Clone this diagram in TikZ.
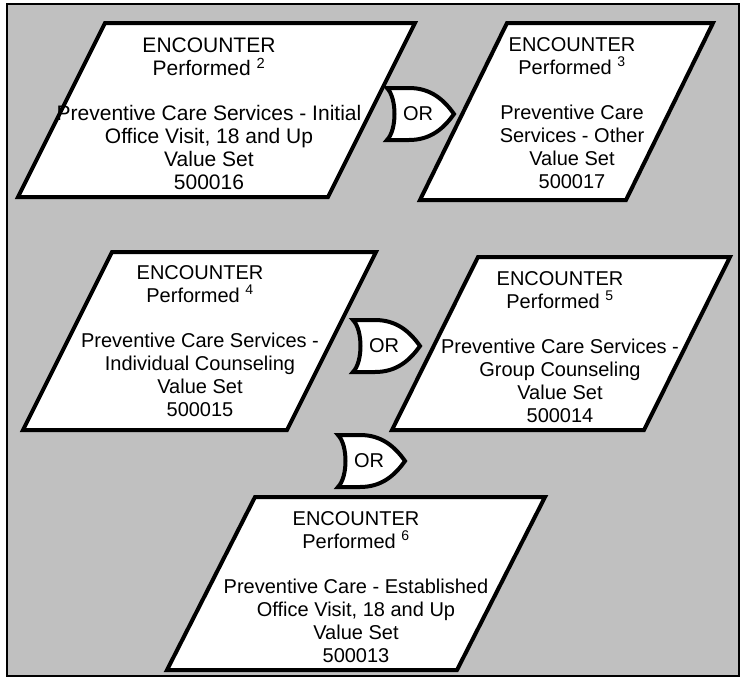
\documentclass[tikz,border=0pt]{standalone}
\usepackage{fontspec}
\setmainfont{Liberation Sans}
\definecolor{panelgray}{HTML}{C0C0C0}
\tikzset{
	boxline/.style={line width=4pt, fill=white},
	gateline/.style={line width=4pt, fill=white},
	label/.style={align=center, inner sep=0pt, font=\fontsize{20}{23}\selectfont}
}
\begin{document}
\begin{tikzpicture}[x=1pt, y=-1pt]
		\useasboundingbox (0,0) rectangle (740,678);
		\draw[line width=1.5pt, fill=panelgray] (7,4) rectangle (739,676);
		
		% parallelograms: top left corner, width, height, slant
		\foreach \x/\y/\w/\h/\s in {105/23/310/174/87, 507/23/206/177/87, 112/252/264/178/89, 478/257/252/173/86, 255/497/290/173/88}
		{
			\draw[boxline] (\x,\y) -- ++(\w,0) -- ++(-\s,\h) -- ++(-\w,0) -- cycle;
		}
		
		\node[label, font=\fontsize{21}{23}\selectfont] (enc2) at (209,114) {ENCOUNTER\\Performed \textsuperscript{2}\\[22pt]Preventive Care Services - Initial\\Office Visit, 18 and Up\\Value Set\\500016};
		\node[label] (enc3) at (572,113) {ENCOUNTER\\Performed \textsuperscript{3}\\[22pt]Preventive Care\\Services - Other\\Value Set\\500017};
		\node[label] (enc4) at (200,341) {ENCOUNTER\\Performed \textsuperscript{4}\\[22pt]Preventive Care Services -\\Individual Counseling\\Value Set\\500015};
		\node[label] (enc5) at (560,347) {ENCOUNTER\\Performed \textsuperscript{5}\\[22pt]Preventive Care Services -\\Group Counseling\\Value Set\\500014};
		\node[label] (enc6) at (356,587) {ENCOUNTER\\Performed \textsuperscript{6}\\[22pt]Preventive Care - Established\\Office Visit, 18 and Up\\Value Set\\500013};
		
		% OR gates: back top corner
		\foreach \n/\x/\y in {or1/387/88, or2/353/320, or3/338/435}
		{
			\draw[gateline] (\x,\y) -- ++(22,0) .. controls ++(22,0) and ++(-10,-14) .. ++(45,26)
				.. controls ++(-10,14) and ++(22,0) .. ++(-45,26) -- ++(-22,0)
				.. controls ++(10,-10) and ++(10,10) .. ++(0,-52) -- cycle;
			\node[label] (\n) at (\x+31,\y+26) {OR};
		}
	\end{tikzpicture}
\end{document}
